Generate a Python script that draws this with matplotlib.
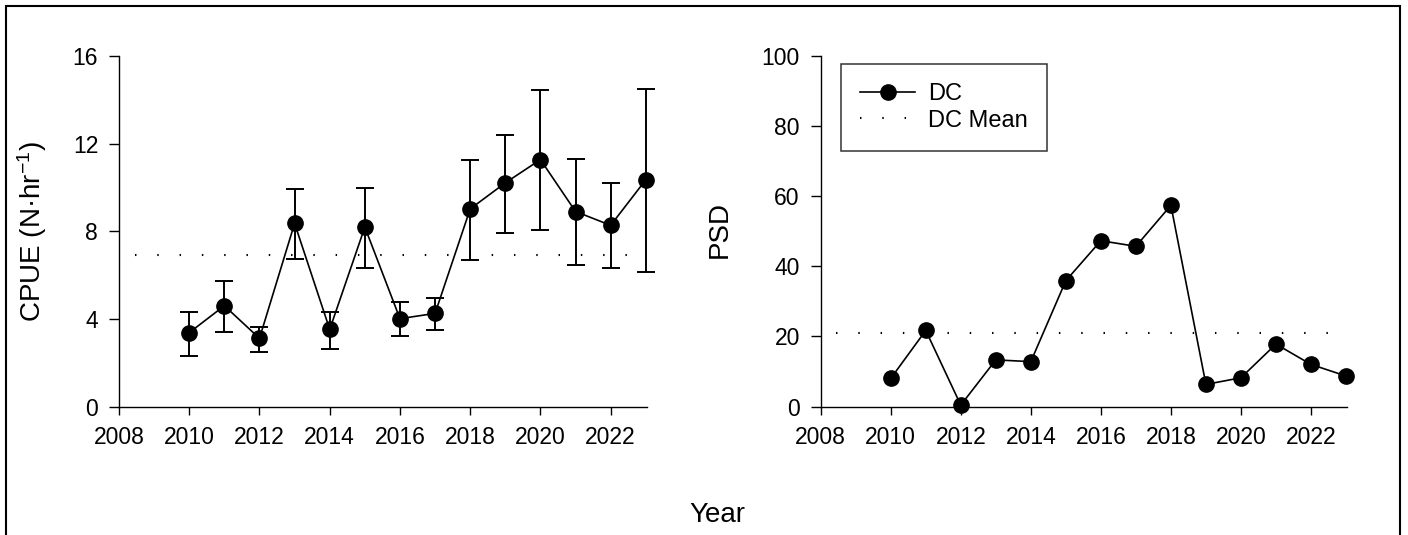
import matplotlib
matplotlib.use("Agg")
import matplotlib.pyplot as plt
from matplotlib.patches import Rectangle
import numpy as np

# ---------------- data ----------------
years = [2010, 2011, 2012, 2013, 2014, 2015, 2016, 2017, 2018, 2019, 2020, 2021, 2022, 2023]
cpue = [3.37, 4.60, 3.11, 8.36, 3.52, 8.19, 4.01, 4.25, 9.02, 10.21, 11.27, 8.90, 8.27, 10.35]
cpue_upper = [4.31, 5.74, 3.64, 9.91, 4.31, 9.97, 4.77, 4.97, 11.27, 12.41, 14.44, 11.30, 10.19, 14.50]
cpue_lower = [2.32, 3.40, 2.50, 6.73, 2.64, 6.34, 3.20, 3.49, 6.70, 7.91, 8.04, 6.46, 6.34, 6.12]
cpue_mean = 6.93
psd = [8.0, 21.7, 0.4, 13.3, 12.8, 35.9, 47.3, 45.7, 57.4, 6.3, 8.2, 17.8, 12.0, 8.7]
psd_mean = 21.0
xticks = [2008, 2010, 2012, 2014, 2016, 2018, 2020, 2022]
cpue_ticks = [0, 4, 8, 12, 16]
psd_ticks = [0, 20, 40, 60, 80, 100]
series_label = "DC"
mean_label = "DC Mean"

# ---------------- style ----------------
W, H = 1408, 535
plt.rcParams['font.family'] = ['Liberation Sans', 'DejaVu Sans']
plt.rcParams['mathtext.fontset'] = 'custom'
plt.rcParams['mathtext.rm'] = 'Liberation Sans'
plt.rcParams['mathtext.it'] = 'Liberation Sans:italic'

fig = plt.figure(figsize=(W / 100, H / 100), dpi=100)

def px_axes(x0, x1, ytop, ybot):
    return [x0 / W, 1 - ybot / H, (x1 - x0) / W, (ybot - ytop) / H]

ax1 = fig.add_axes(px_axes(119, 646.5, 56, 406.5))
ax2 = fig.add_axes(px_axes(820.7, 1346.7, 56, 406.5))

XMIN, XMAX = 2008, 2023.02
MEAN_X0, MEAN_X1 = 2008.45, 2023.0
mean_style = dict(color='k', lw=1.5, linestyle=(0, (0.7, 10.0)))
pt_style = dict(color='k', marker='o', markersize=11, lw=1.2, clip_on=False)

# left panel
c = np.array(cpue)
yerr = [c - np.array(cpue_lower), np.array(cpue_upper) - c]
ax1.plot([MEAN_X0, MEAN_X1], [cpue_mean, cpue_mean], **mean_style)
ax1.errorbar(years, cpue, yerr=yerr, fmt='o-', color='k', ecolor='k',
             elinewidth=1.4, capsize=6.8, capthick=1.4, markersize=11,
             lw=1.2, clip_on=False, zorder=3)
ax1.set_ylim(0, 16)
ax1.set_yticks(cpue_ticks)

# right panel
h_mean, = ax2.plot([MEAN_X0, MEAN_X1], [psd_mean, psd_mean], label=mean_label, **mean_style)
h_dc, = ax2.plot(years, psd, label=series_label, zorder=3, **pt_style)
ax2.set_ylim(0, 100)
ax2.set_yticks(psd_ticks)

for ax in (ax1, ax2):
    ax.set_xlim(XMIN, XMAX)
    ax.set_xticks(xticks)
    for s in ('top', 'right'):
        ax.spines[s].set_visible(False)
    for s in ('left', 'bottom'):
        ax.spines[s].set_linewidth(1.0)
    ax.tick_params(axis='y', direction='out', length=7.5, width=1.0, pad=7.5, labelsize=16.5)
    ax.tick_params(axis='x', direction='out', length=5.5, width=1.0, pad=8.5, labelsize=16.5)

leg = ax2.legend([h_dc, h_mean], [series_label, mean_label], loc='upper left',
                 bbox_to_anchor=(841 / W, 1 - 64 / H), bbox_transform=fig.transFigure,
                 borderaxespad=0, fontsize=17, frameon=True, fancybox=False,
                 edgecolor='k', handlelength=2.35, handletextpad=0.55,
                 borderpad=0.8, labelspacing=0.2)
leg.get_frame().set_linewidth(1.1)

# axis labels
fig.text(32 / W, 1 - 232 / H, "CPUE (N·hr$^{\\mathregular{-1}}$)", rotation=90,
         ha='center', va='center', fontsize=20)
fig.text(720 / W, 1 - 230 / H, "PSD", rotation=90, ha='center', va='center', fontsize=20)
fig.text(717 / W, 1 - 515 / H, "Year", ha='center', va='center', fontsize=20)

# outer frame
fig.patches.append(Rectangle((6 / W, -0.05), (1400 - 6) / W, 1.05 - 6 / H,
                             transform=fig.transFigure, fill=False,
                             edgecolor='k', lw=1.5))

fig.savefig("out.png", dpi=100)
